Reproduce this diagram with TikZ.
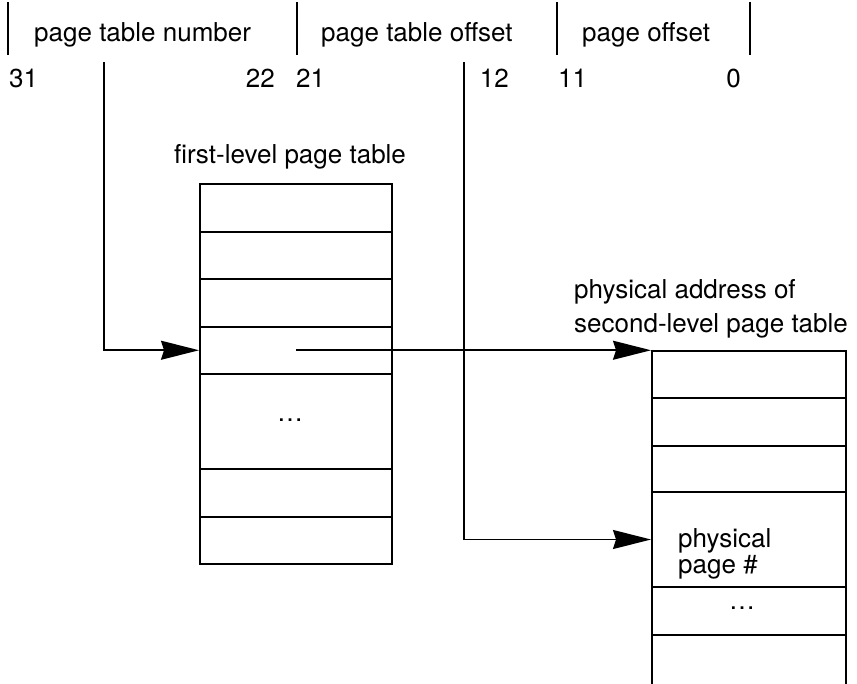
\documentclass[tikz,border=0pt]{standalone}
\usepackage{fontspec}
\setmainfont{TeX Gyre Heros}
\usetikzlibrary{arrows.meta}
\begin{document}
\begin{tikzpicture}[x=1pt,y=-1pt,
  txt/.style={inner sep=0pt, font=\fontsize{26}{31}\selectfont},
  row/.style={draw, line width=2pt, inner sep=0pt, minimum width=192pt},
  bar/.style={line width=2pt},
  conn/.style={line width=1.7pt},
  tip/.style={-{Stealth[length=38pt,width=19pt,inset=3pt]}}]
\useasboundingbox (0,0) rectangle (857,683);
% field labels
\node[txt, anchor=base west] (lpn) at (34,41) {page table number};
\node[txt, anchor=base west] (lpto) at (321,41) {page table offset};
\node[txt, anchor=base west] (lpo) at (582,41) {page offset};
% separators
\draw[bar] (8,2) -- (8,55);
\draw[bar] (297,2) -- (297,55);
\draw[bar] (557,2) -- (557,55);
\draw[bar] (750,2) -- (750,55);
% bit numbers
\node[txt, anchor=base west] (n31) at (9,87) {31};
\node[txt, anchor=base east] (n22) at (275,87) {22};
\node[txt, anchor=base west] (n21) at (296,87) {21};
\node[txt, anchor=base east] (n12) at (509,87) {12};
\node[txt, anchor=base west] (n11) at (558,87) {11};
\node[txt, anchor=base east] (n0) at (741,87) {0};
% first-level page table
\node[txt, anchor=base west] (flt) at (174,163) {first-level page table};
\node[row, minimum height=47.5pt] (f1) at (296,207.75) {};
\node[row, minimum height=47.5pt] (f2) at (296,255.25) {};
\node[row, minimum height=47.5pt] (f3) at (296,302.75) {};
\node[row, minimum height=47.5pt] (f4) at (296,350.25) {};
\node[row, minimum height=95pt] (f5) at (296,421.5) {};
\node[row, minimum height=47.5pt] (f6) at (296,492.75) {};
\node[row, minimum height=47.5pt] (f7) at (296,540.25) {};
\node[txt] (fd) at (290,420) {\dots};
% second-level page table
\node[txt, anchor=base west] (pa1) at (574,298) {physical address of};
\node[txt, anchor=base west] (pa2) at (574,332) {second-level page table};
\node[row, minimum height=47pt, minimum width=194pt] (s1) at (749,374.5) {};
\node[row, minimum height=48pt, minimum width=194pt] (s2) at (749,422) {};
\node[row, minimum height=46pt, minimum width=194pt] (s3) at (749,469) {};
\node[row, minimum height=95pt, minimum width=194pt] (s4) at (749,539.5) {};
\node[row, minimum height=48pt, minimum width=194pt] (s5) at (749,611) {};
\node[inner sep=0pt, minimum height=56pt, minimum width=194pt] (s6) at (749,663) {};
\draw[line width=2pt] (s6.south west) -- (s6.north west) (s6.north east) -- (s6.south east);
\node[txt, anchor=base west] (pp1) at (678,547) {physical};
\node[txt, anchor=base west] (pp2) at (678,573) {page \#};
\node[txt] (sd) at (742,608) {\dots};
% connectors
\coordinate (c1) at (104,62);
\coordinate (c2) at (464,62);
\draw[conn, tip] (c1) |- (f4.west);
\draw[conn, tip] (f4.center) -- (f4.center -| s1.west);
\draw[conn, tip] (c2) |- (s4.west);
\end{tikzpicture}
\end{document}
